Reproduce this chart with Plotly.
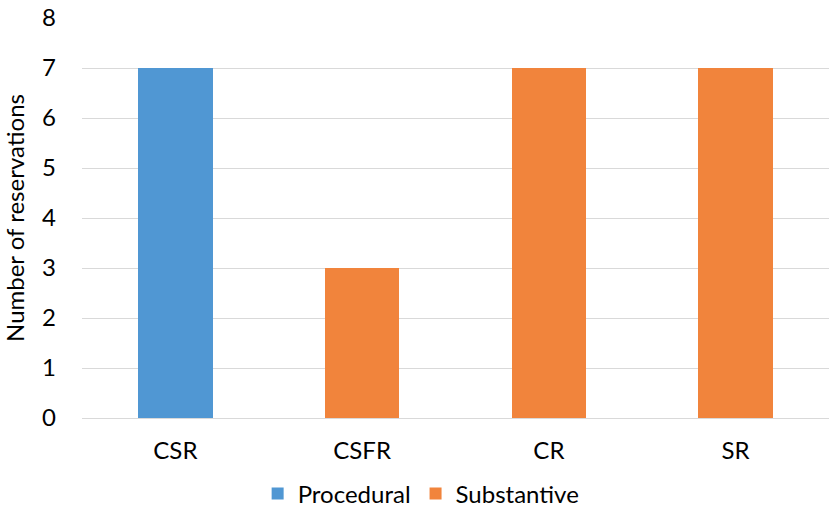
import plotly.graph_objects as go

categories = ["CSR", "CSFR", "CR", "SR"]
procedural = [7, None, None, None]
substantive = [None, 3, 7, 7]
y_ticks = [0, 1, 2, 3, 4, 5, 6, 7, 8]

FONT = "Lato"
FS = 24

fig = go.Figure()
fig.add_trace(go.Bar(x=categories, y=procedural, name="Procedural",
                     marker=dict(color="#5097D3", line=dict(width=0)), width=0.4))
fig.add_trace(go.Bar(x=categories, y=substantive, name="Substantive",
                     marker=dict(color="#F1843C", line=dict(width=0)), width=0.4))

fig.update_layout(
    width=829, height=508,
    barmode="stack",
    paper_bgcolor="white", plot_bgcolor="white",
    margin=dict(l=82, r=0, t=18, b=90, autoexpand=False),
    font=dict(family=FONT, size=FS, color="#000000"),
    showlegend=True,
    legend=dict(orientation="h", x=0.454, xanchor="center", y=-0.19, yanchor="middle",
                font=dict(family=FONT, size=FS, color="#000000"),
                itemwidth=30, traceorder="normal"),
    xaxis=dict(showgrid=False, showline=False, zeroline=False, ticks="", automargin=False,
               tickfont=dict(family=FONT, size=FS), ticklabelstandoff=16),
    yaxis=dict(range=[0, 8], tickvals=y_ticks, showgrid=True, gridcolor="#D9D9D9",
               gridwidth=1, zeroline=True, zerolinecolor="#D9D9D9", zerolinewidth=1,
               showline=False, ticks="", tickfont=dict(family=FONT, size=FS), automargin=False,
               ticklabelstandoff=25,
               title=dict(text="Number of reservations", font=dict(family=FONT, size=FS),
                          standoff=12)),
)

fig.write_html("out.html", config={"displayModeBar": False},
               post_script="document.body.style.margin='0';")
